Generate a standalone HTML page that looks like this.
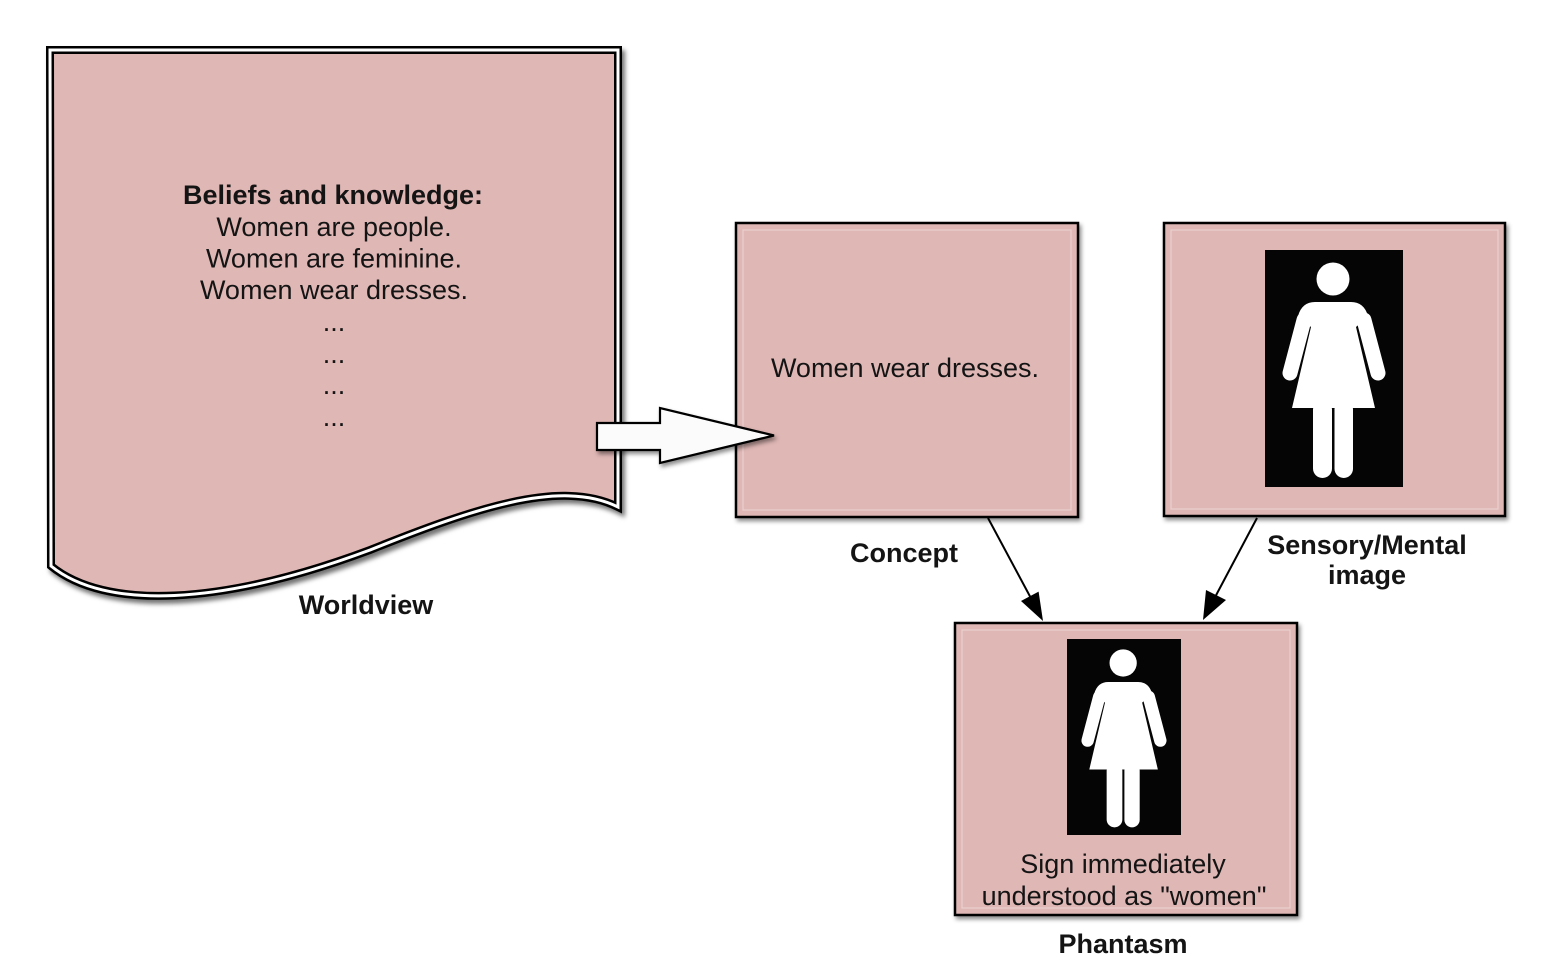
<!DOCTYPE html>
<html>
<head>
<meta charset="utf-8">
<style>
  html, body { margin:0; padding:0; background:#ffffff; }
  svg { display:block; }
  text { font-family: "Liberation Sans", Arial, sans-serif; fill:#141414; }
  .b { font-weight:bold; }
</style>
</head>
<body>
<svg width="1564" height="977" viewBox="0 0 1564 977" xmlns="http://www.w3.org/2000/svg">
  <defs>
    <filter id="sh" x="-10%" y="-10%" width="125%" height="130%">
      <feDropShadow dx="3" dy="4" stdDeviation="2.5" flood-color="#000" flood-opacity="0.55"/>
    </filter>
    <filter id="sh2" x="-10%" y="-10%" width="125%" height="130%">
      <feDropShadow dx="2" dy="3" stdDeviation="2" flood-color="#000" flood-opacity="0.45"/>
    </filter>
    <g id="woman">
      <circle cx="68" cy="29" r="16.5" fill="#fff"/>
      <line x1="39" y1="70" x2="25" y2="123" stroke="#fff" stroke-width="15" stroke-linecap="round"/>
      <line x1="99" y1="70" x2="113" y2="123" stroke="#fff" stroke-width="15" stroke-linecap="round"/>
      <path d="M33,66 Q37,52 50,52 L86,52 Q99,52 103,66 L91,77 L110,158 L27,158 L46,77 Z" fill="#fff"/>
      <rect x="48" y="150" width="19" height="78" rx="9.5" fill="#fff"/>
      <rect x="69.5" y="150" width="18.5" height="78" rx="9.25" fill="#fff"/>
    </g>
  </defs>

  <rect x="0" y="0" width="1564" height="977" fill="#ffffff"/>

  <!-- Worldview document shape -->
  <g filter="url(#sh)">
    <path d="M50,50 L618,50 L618,507 C560,478 470,510 370,550 C220,606 105,610 51,566 Z"
          fill="#dfb7b5" stroke="#000" stroke-width="8" stroke-linejoin="miter"/>
  </g>
  <path d="M50,50 L618,50 L618,507 C560,478 470,510 370,550 C220,606 105,610 51,566 Z"
        fill="none" stroke="#fff" stroke-width="3"/>

  <text x="333" y="204" font-size="27" text-anchor="middle" class="b">Beliefs and knowledge:</text>
  <text x="334" y="236" font-size="27" text-anchor="middle">Women are people.</text>
  <text x="334" y="267.5" font-size="27" text-anchor="middle">Women are feminine.</text>
  <text x="334" y="299" font-size="27" text-anchor="middle">Women wear dresses.</text>
  <text x="334" y="331" font-size="27" text-anchor="middle">...</text>
  <text x="334" y="363" font-size="27" text-anchor="middle">...</text>
  <text x="334" y="394" font-size="27" text-anchor="middle">...</text>
  <text x="334" y="426" font-size="27" text-anchor="middle">...</text>

  <text x="366" y="614" font-size="27" text-anchor="middle" class="b">Worldview</text>

  <!-- Concept box -->
  <rect x="736" y="223" width="342" height="294" fill="#dfb7b5" stroke="#000" stroke-width="2.5" filter="url(#sh2)"/>
  <rect x="743" y="230" width="328" height="280" fill="none" stroke="#ecd0ce" stroke-width="1.2"/>
  <text x="905" y="377" font-size="27" text-anchor="middle">Women wear dresses.</text>
  <text x="904" y="562" font-size="27" text-anchor="middle" class="b">Concept</text>

  <!-- Block arrow -->
  <polygon points="597,423 660,423 660,408 774,435.5 660,463 660,450 597,450"
           fill="#fbfbfb" stroke="#000" stroke-width="2.2" stroke-linejoin="miter" filter="url(#sh2)"/>

  <!-- Sensory/Mental image box -->
  <rect x="1164" y="223" width="341" height="293" fill="#dfb7b5" stroke="#000" stroke-width="2.5" filter="url(#sh2)"/>
  <rect x="1171" y="230" width="327" height="279" fill="none" stroke="#ecd0ce" stroke-width="1.2"/>
  <rect x="1265" y="250" width="138" height="237" fill="#050505"/>
  <use href="#woman" transform="translate(1265,250)"/>
  <text x="1367" y="554" font-size="27" text-anchor="middle" class="b">Sensory/Mental</text>
  <text x="1367" y="584" font-size="27" text-anchor="middle" class="b">image</text>

  <!-- Phantasm box -->
  <rect x="955" y="623" width="342" height="292" fill="#dfb7b5" stroke="#000" stroke-width="2.5" filter="url(#sh2)"/>
  <rect x="962" y="630" width="328" height="278" fill="none" stroke="#ecd0ce" stroke-width="1.2"/>
  <rect x="1067" y="639" width="114" height="196" fill="#050505"/>
  <use href="#woman" transform="translate(1067,639) scale(0.826)"/>
  <text x="1123" y="873" font-size="27" text-anchor="middle">Sign immediately</text>
  <text x="1124" y="905" font-size="27" text-anchor="middle">understood as "women"</text>
  <text x="1123" y="953" font-size="27" text-anchor="middle" class="b">Phantasm</text>

  <!-- Connectors -->
  <line x1="988" y1="518" x2="1033" y2="602" stroke="#000" stroke-width="2"/>
  <polygon points="1043,621 1021,601 1038.6,591.6" fill="#000"/>
  <line x1="1257" y1="518" x2="1213" y2="601" stroke="#000" stroke-width="2"/>
  <polygon points="1203,620 1206,590 1226,600" fill="#000"/>
</svg>
</body>
</html>
